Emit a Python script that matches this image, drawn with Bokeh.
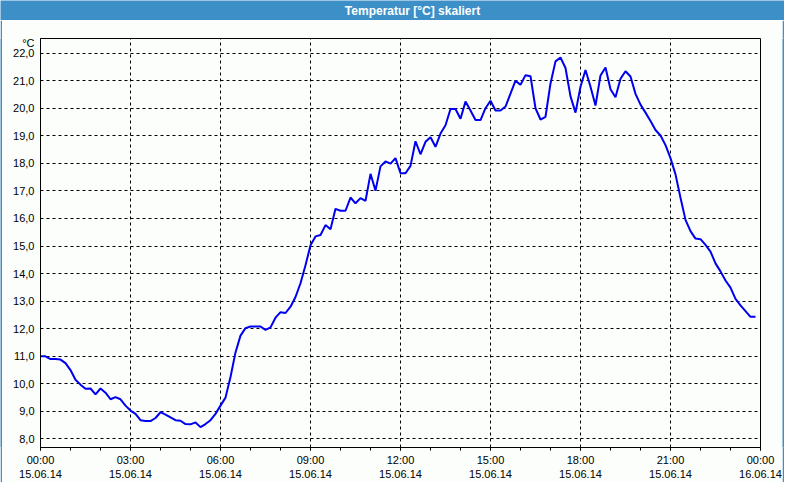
import pandas as pd
from bokeh.plotting import figure
from bokeh.layouts import column, row
from bokeh.models import (FixedTicker, DatetimeTickFormatter, Range1d,
                          CustomJSTickFormatter, ColumnDataSource)
from bokeh.core.properties import value
from bokeh.embed import file_html
from bokeh.resources import INLINE

# --- data -------------------------------------------------------------
title_text = "Temperatur [°C] skaliert"
unit_text = "°C"
start_time = "2014-06-15 00:00"

temps = [
    11.00, 11.00, 10.90, 10.90, 10.88, 10.75,   # 00:00
    10.50, 10.15, 9.97, 9.82, 9.83, 9.62,       # 01:00
    9.83, 9.68, 9.44, 9.52, 9.44, 9.21,         # 02:00
    9.03, 8.91, 8.68, 8.65, 8.65, 8.76,         # 03:00
    8.97, 8.88, 8.78, 8.68, 8.66, 8.54,         # 04:00
    8.53, 8.60, 8.43, 8.54, 8.68, 8.91,         # 05:00
    9.21, 9.50, 10.25, 11.14, 11.75, 12.02,     # 06:00
    12.08, 12.08, 12.08, 11.96, 12.05, 12.40,   # 07:00
    12.60, 12.57, 12.80, 13.15, 13.65, 14.30,   # 08:00
    15.03, 15.35, 15.40, 15.76, 15.61, 16.35,   # 09:00
    16.28, 16.28, 16.76, 16.55, 16.74, 16.64,   # 10:00
    17.62, 17.01, 17.89, 18.07, 17.99, 18.19,   # 11:00
    17.64, 17.64, 17.91, 18.80, 18.33, 18.78,   # 12:00
    18.95, 18.60, 19.08, 19.38, 19.97, 19.97,   # 13:00
    19.62, 20.24, 19.92, 19.57, 19.57, 20.00,   # 14:00
    20.27, 19.92, 19.92, 20.06, 20.53, 21.00,   # 15:00
    20.85, 21.20, 21.16, 20.00, 19.59, 19.69,   # 16:00
    20.90, 21.70, 21.84, 21.46, 20.43, 19.84,   # 17:00
    20.78, 21.39, 20.78, 20.10, 21.19, 21.48,   # 18:00
    20.69, 20.40, 21.07, 21.34, 21.15, 20.52,   # 19:00
    20.13, 19.84, 19.54, 19.21, 19.01, 18.66,   # 20:00
    18.19, 17.60, 16.75, 15.95, 15.54, 15.27,   # 21:00
    15.25, 15.04, 14.80, 14.37, 14.08, 13.75,   # 22:00
    13.49, 13.08, 12.85, 12.64, 12.43, 12.43,   # 23:00
]
times = pd.date_range(start_time, periods=len(temps), freq="10min")

y_ticks = [8, 9, 10, 11, 12, 13, 14, 15, 16, 17, 18, 19, 20, 21, 22]
unit_tick = 22.35          # position of the "°C" caption on the y axis
x_major_hours = [0, 3, 6, 9, 12, 15, 18, 21, 24]
x_minor_hours = list(range(0, 25))
y_min, y_max = 7.69, 22.53

# --- styling ----------------------------------------------------------
W, H = 784, 484
TITLE_H = 20
EDGE = 2
BG = "#fbfefb"
BLUE = "#3d8fc7"
FONT = "Liberation Sans"

t0 = pd.Timestamp(start_time)
def ms(h):
    return (t0 + pd.Timedelta(hours=h)).value // 10**6


def strip(w, h):
    f = figure(width=w, height=h, output_backend="svg", toolbar_location=None,
               tools="", min_border=0, x_range=Range1d(0, 1), y_range=Range1d(0, 1))
    f.axis.visible = False
    f.grid.visible = False
    f.outline_line_color = None
    f.background_fill_color = BLUE
    f.border_fill_color = BLUE
    return f


# title bar
tb = figure(width=W, height=TITLE_H, output_backend="svg", toolbar_location=None,
            tools="", min_border=0, x_range=Range1d(0, W), y_range=Range1d(0, TITLE_H))
tb.axis.visible = False
tb.grid.visible = False
tb.outline_line_color = None
tb.background_fill_color = BLUE
tb.border_fill_color = BLUE
tb.text(x=[412], y=[TITLE_H / 2], text=[title_text], text_align="center",
        text_baseline="middle", text_color="white", text_font=value(FONT),
        text_font_style="bold", text_font_size="12px")

# main chart
MW = W - 2 * EDGE
MH = H - TITLE_H - EDGE
src = ColumnDataSource(data=dict(t=times, v=temps))

p = figure(width=MW, height=MH, x_axis_type="datetime", output_backend="svg",
           toolbar_location=None, tools="",
           x_range=Range1d(ms(0), ms(24)), y_range=Range1d(y_min, y_max),
           min_border_left=40 - EDGE, min_border_right=W - 760 - EDGE,
           min_border_top=38 - TITLE_H, min_border_bottom=31)
p.background_fill_color = BG
p.border_fill_color = BG
p.outline_line_color = "black"
p.outline_line_width = 1
p.outline_line_alpha = 1

p.line("t", "v", source=src, line_color="#0000f0", line_width=2)

xa = p.xaxis[0]
xa.ticker = FixedTicker(ticks=[ms(h) for h in x_major_hours],
                        minor_ticks=[ms(h) for h in x_minor_hours])
xa.formatter = DatetimeTickFormatter(hours="%H:%M\n%d.%m.%y", days="%H:%M\n%d.%m.%y",
                                     hourmin="%H:%M\n%d.%m.%y")
xa.major_tick_out = 3
xa.major_tick_in = 0
xa.minor_tick_out = 3
xa.minor_tick_in = 0
xa.major_label_standoff = 3
xa.axis_line_color = "black"
xa.major_tick_line_color = "black"
xa.minor_tick_line_color = "black"
xa.major_label_text_font = FONT
xa.major_label_text_font_size = "11px"
xa.major_label_text_color = "black"

ya = p.yaxis[0]
ya.ticker = FixedTicker(ticks=y_ticks + [unit_tick])
ya.formatter = CustomJSTickFormatter(
    args=dict(unit=unit_text, ut=unit_tick),
    code="if (Math.abs(tick - ut) < 0.01) { return unit; } return tick.toFixed(1).replace('.', ',');")
ya.major_tick_out = 0
ya.major_tick_in = 0
ya.minor_tick_line_color = None
ya.major_label_standoff = 6
ya.axis_line_color = "black"
ya.major_label_text_font = FONT
ya.major_label_text_font_size = "11px"
ya.major_label_text_color = "black"

p.xgrid[0].ticker = FixedTicker(ticks=[ms(h) for h in x_major_hours])
p.ygrid[0].ticker = FixedTicker(ticks=y_ticks)
for g in (p.xgrid[0], p.ygrid[0]):
    g.grid_line_color = "black"
    g.grid_line_dash = "3 3"
    g.grid_line_width = 1

layout = column(tb, row(strip(EDGE, MH), p, strip(EDGE, MH)), strip(W, EDGE))

open("out.html", "w").write(file_html(layout, INLINE))
